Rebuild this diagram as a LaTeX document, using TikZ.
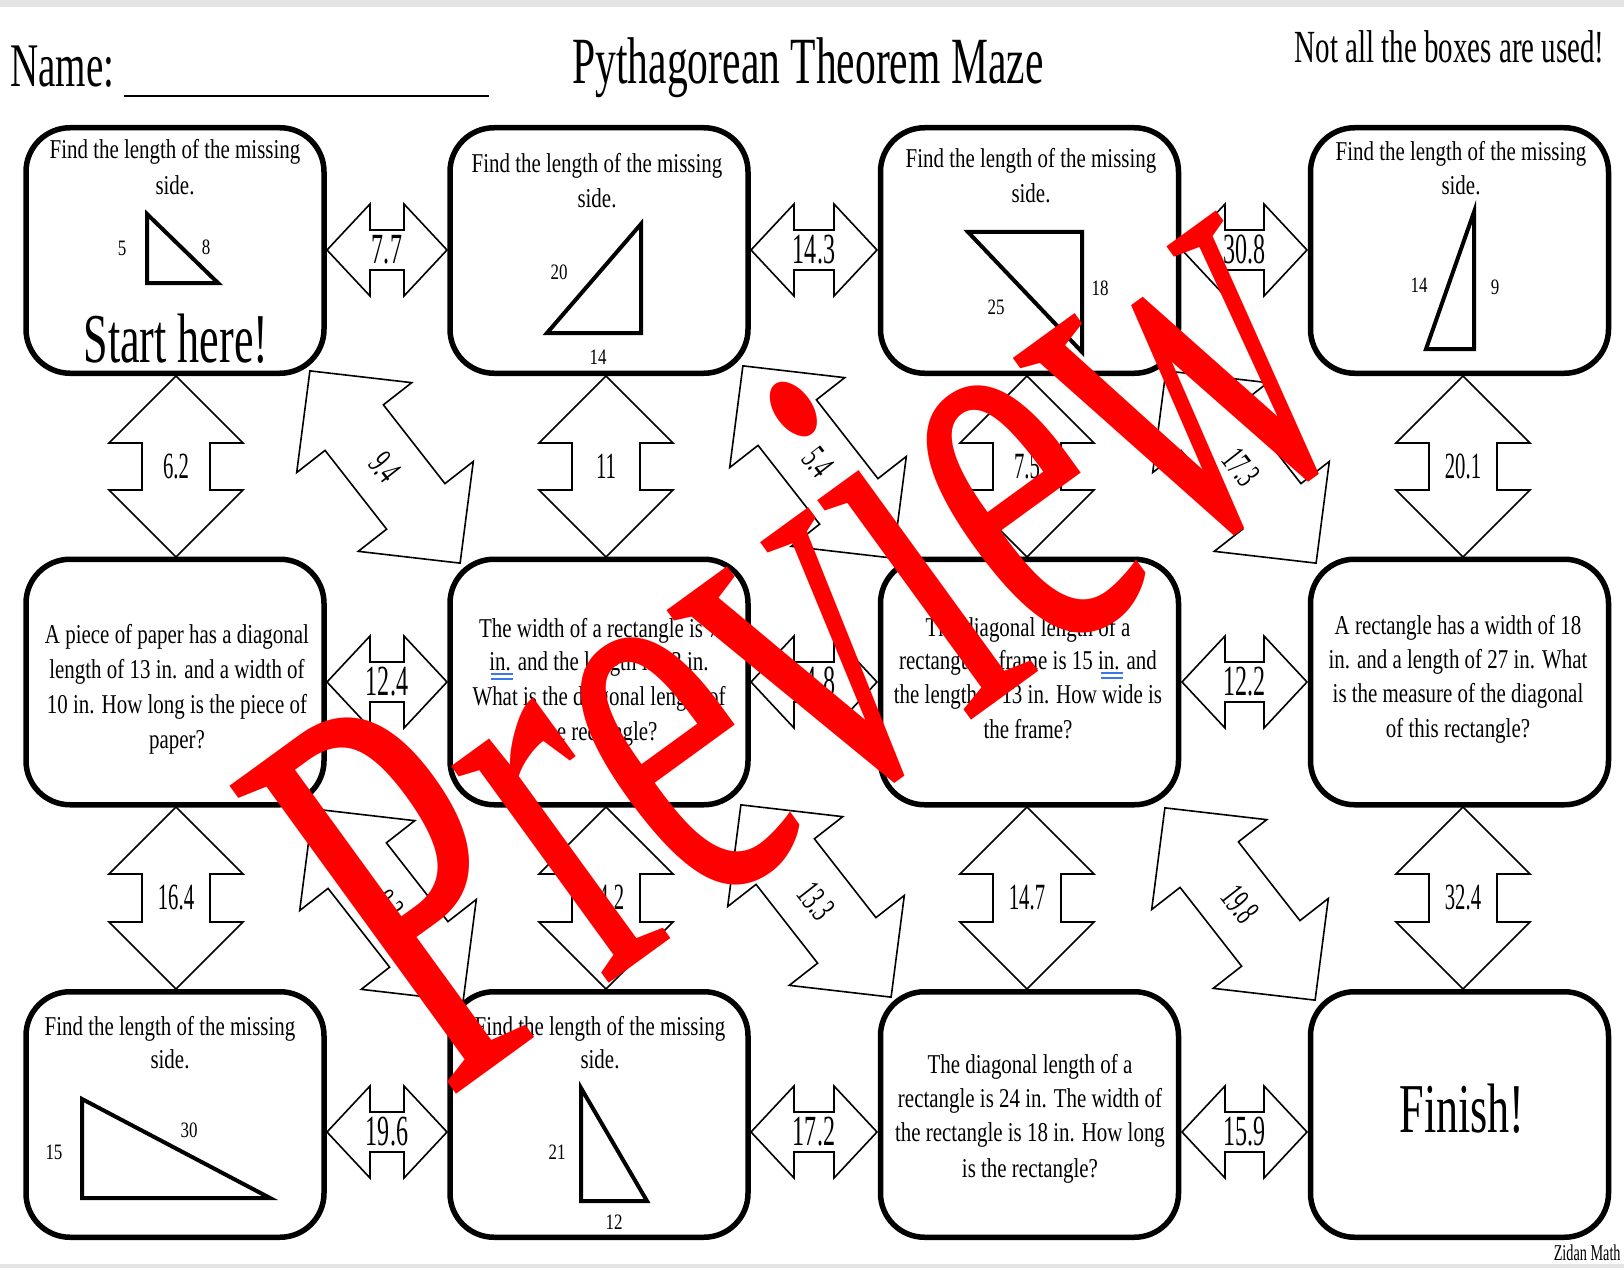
\documentclass[tikz,border=0pt]{standalone}
\usepackage{fontspec}
\setmainfont{Liberation Serif}
\newfontfamily\bxf{Liberation Serif}[FakeStretch=0.77]
\newfontfamily\ttlf{Liberation Serif}[FakeStretch=0.63]
\newfontfamily\numf{Liberation Serif}[FakeStretch=0.56]
\newfontfamily\wmf{Liberation Serif}[FakeStretch=0.60]
\definecolor{band}{HTML}{E4E4E4}
\definecolor{spell}{HTML}{3B78E7}
\tikzset{
  arr/.style={draw=black, fill=white, line width=0.8pt, line join=miter},
  mbox/.style={draw=black, fill=white, line width=2.75pt, rounded corners=22pt,
    minimum width=149pt, minimum height=122.75pt, inner sep=0pt},
  hnum/.style={font=\numf\fontsize{21.5pt}{21.5pt}\selectfont, inner sep=0pt},
  vnum/.style={font=\numf\fontsize{18.5pt}{18.5pt}\selectfont, inner sep=0pt},
  btxt/.style={font=\bxf\fontsize{13.6pt}{17pt}\selectfont, inner sep=0pt, anchor=base},
  tlab/.style={font=\bxf\fontsize{11pt}{11pt}\selectfont, inner sep=0pt},
  tri/.style={draw=black, line width=2pt, line join=miter},
  bigtxt/.style={font=\ttlf\fontsize{35pt}{35pt}\selectfont, inner sep=0pt, anchor=base},
  spellmark/.style={draw=spell, line width=1pt}
}
% horizontal double arrow: name, x1, x2, y, label
\newcommand\mzH[5]{%
  \draw[arr] (#2,#4) -- ({#2+43},{#4-46}) -- ({#2+43},{#4-20}) -- ({#3-43},{#4-20})
    -- ({#3-43},{#4-46}) -- (#3,#4) -- ({#3-43},{#4+46}) -- ({#3-43},{#4+20})
    -- ({#2+43},{#4+20}) -- ({#2+43},{#4+46}) -- cycle;
  \node[hnum] (#1) at ({(#2+#3)/2},#4) {#5};}
% vertical double arrow: name, x, y1, y2, label
\newcommand\mzV[5]{%
  \draw[arr] (#2,#3) -- ({#2+67},{#3+67}) -- ({#2+34},{#3+67}) -- ({#2+34},{#4-67})
    -- ({#2+67},{#4-67}) -- (#2,#4) -- ({#2-67},{#4-67}) -- ({#2-34},{#4-67})
    -- ({#2-34},{#3+67}) -- ({#2-67},{#3+67}) -- cycle;
  \node[vnum] (#1) at (#2,{(#3+#4)/2}) {#5};}
% diagonal double arrow: name, cx, cy, label
\newcommand\mzD[4]{%
  \begin{scope}[shift={(#2,#3)}, rotate=38]
    \draw[arr] (0,-122) -- (73,-50) -- (37,-50) -- (37,50) -- (73,50) -- (0,122)
      -- (-73,50) -- (-37,50) -- (-37,-50) -- (-73,-50) -- cycle;
  \end{scope}
  \node[vnum, rotate=-52] (#1) at (#2,#3) {#4};}

\begin{document}
\begin{tikzpicture}[x=0.5pt, y=-0.5pt]
\useasboundingbox (0,0) rectangle (1624,1268);
\fill[white] (0,0) rectangle (1624,1268);
\fill[band] (0,0) rectangle (1624,7);
\fill[band] (0,1264) rectangle (1624,1268);

% header
\node[anchor=base west, font=\ttlf\fontsize{31pt}{31pt}\selectfont, inner sep=0pt] (name) at (10,87) {Name:};
\coordinate (ulA) at (124,96);
\coordinate (ulB) at (489,96);
\draw[line width=1.3pt] (ulA) -- (ulB);
\node[anchor=base, font=\ttlf\fontsize{33pt}{33pt}\selectfont, inner sep=0pt] (title) at (808,84) {Pythagorean Theorem Maze};
\node[anchor=base east, font=\ttlf\fontsize{23pt}{23pt}\selectfont, inner sep=0pt] (note) at (1605,63) {Not all the boxes are used!};
\node[anchor=base east, font=\ttlf\fontsize{11.3pt}{11.3pt}\selectfont, inner sep=0pt] (credit) at (1621,1260) {Zidan Math};

% horizontal arrows
\mzH{h11}{327}{447}{250}{7.7}
\mzH{h12}{751}{877}{250}{14.3}
\mzH{h13}{1182}{1307}{250}{30.8}
\mzH{h21}{327}{447}{682}{12.4}
\mzH{h22}{751}{877}{682}{14.8}
\mzH{h23}{1182}{1307}{682}{12.2}
\mzH{h31}{327}{447}{1132}{19.6}
\mzH{h32}{751}{877}{1132}{17.2}
\mzH{h33}{1182}{1307}{1132}{15.9}

% vertical arrows
\mzV{v11}{176}{376}{557}{6.2}
\mzV{v12}{606}{376}{557}{11}
\mzV{v13}{1027}{376}{557}{7.5}
\mzV{v14}{1463}{376}{557}{20.1}
\mzV{v21}{176}{807}{989}{16.4}
\mzV{v22}{606}{807}{989}{24.2}
\mzV{v23}{1027}{807}{989}{14.7}
\mzV{v24}{1463}{807}{989}{32.4}

% diagonal arrows
\mzD{d11}{385}{467}{9.4}
\mzD{d12}{818}{462}{5.4}
\mzD{d13}{1241}{467}{17.3}
\mzD{d21}{388}{905}{8.3}
\mzD{d22}{816}{901}{13.3}
\mzD{d23}{1240}{904}{19.8}

% boxes
\node[mbox] (b11) at (175,250.5) {};
\node[mbox] (b12) at (599,250.5) {};
\node[mbox] (b13) at (1029.5,250.5) {};
\node[mbox] (b14) at (1459.5,250.5) {};
\node[mbox] (b21) at (175,682) {};
\node[mbox] (b22) at (599,682) {};
\node[mbox] (b23) at (1029.5,682) {};
\node[mbox] (b24) at (1459.5,682) {};
\node[mbox] (b31) at (175,1114.5) {};
\node[mbox] (b32) at (599,1114.5) {};
\node[mbox] (b33) at (1029.5,1114.5) {};
\node[mbox] (b34) at (1459.5,1114.5) {};

% row 1 texts
\node[btxt] (t11a) at (175,159) {Find the length of the missing};
\node[btxt] (t11b) at (175,195) {side.};
\node[bigtxt] (start) at (176,362) {Start here!};
\node[btxt] (t12a) at (597,173) {Find the length of the missing};
\node[btxt] (t12b) at (597,207) {side.};
\node[btxt] (t13a) at (1031,168) {Find the length of the missing};
\node[btxt] (t13b) at (1031,203) {side.};
\node[btxt] (t14a) at (1461,161) {Find the length of the missing};
\node[btxt] (t14b) at (1461,195) {side.};

% row 1 triangles
\draw[tri] (147,214) -- (147,283) -- (218,283) -- cycle;
\node[tlab] (l11a) at (122,248) {5};
\node[tlab] (l11b) at (206,247) {8};
\draw[tri] (641,224) -- (641,333) -- (547,333) -- cycle;
\node[tlab] (l12a) at (559,272) {20};
\node[tlab] (l12b) at (598,357) {14};
\draw[tri] (968,232) -- (1082,232) -- (1082,352) -- cycle;
\node[tlab] (l13a) at (996,307) {25};
\node[tlab] (l13b) at (1100,288) {18};
\draw[tri] (1474,212) -- (1474,349) -- (1426,349) -- cycle;
\node[tlab] (l14a) at (1419,285) {14};
\node[tlab] (l14b) at (1495,287) {9};

% row 2 texts
\node[btxt] (t21a) at (177,643) {A piece of paper has a diagonal};
\node[btxt] (t21b) at (177,678) {length of 13 in. and a width of};
\node[btxt] (t21c) at (177,713) {10 in. How long is the piece of};
\node[btxt] (t21d) at (177,748) {paper?};
\node[btxt] (t22a) at (599,637) {The width of a rectangle is 7};
\node[btxt] (t22b) at (599,670) {in. and the length is 13 in.};
\node[btxt] (t22c) at (599,705) {What is the diagonal length of};
\node[btxt] (t22d) at (599,740) {the rectangle?};
\node[btxt] (t23a) at (1028,636) {The diagonal length of a};
\node[btxt] (t23b) at (1028,669) {rectangular frame is 15 in. and};
\node[btxt] (t23c) at (1028,703) {the length is 13 in. How wide is};
\node[btxt] (t23d) at (1028,738) {the frame?};
\node[btxt] (t24a) at (1458,634) {A rectangle has a width of 18};
\node[btxt] (t24b) at (1458,668) {in. and a length of 27 in. What};
\node[btxt] (t24c) at (1458,702) {is the measure of the diagonal};
\node[btxt] (t24d) at (1458,737) {of this rectangle?};
\draw[spellmark] (491,674) -- (513,674) (491,679) -- (513,679);
\draw[spellmark] (1101,673) -- (1123,673) (1101,678) -- (1123,678);

% row 3 texts
\node[btxt] (t31a) at (170,1035) {Find the length of the missing};
\node[btxt] (t31b) at (170,1068) {side.};
\draw[tri] (82,1099) -- (82,1198) -- (270,1198) -- cycle;
\node[tlab] (l31a) at (54,1152) {15};
\node[tlab] (l31b) at (189,1130) {30};
\node[btxt] (t32a) at (600,1035) {Find the length of the missing};
\node[btxt] (t32b) at (600,1068) {side.};
\draw[tri] (581,1088) -- (581,1201) -- (647,1201) -- cycle;
\node[tlab] (l32a) at (557,1152) {21};
\node[tlab] (l32b) at (614,1222) {12};
\node[btxt] (t33a) at (1030,1073) {The diagonal length of a};
\node[btxt] (t33b) at (1030,1107) {rectangle is 24 in. The width of};
\node[btxt] (t33c) at (1030,1141) {the rectangle is 18 in. How long};
\node[btxt] (t33d) at (1030,1177) {is the rectangle?};
\node[bigtxt] (finish) at (1462,1132) {Finish!};

% watermark
\node[anchor=base west, rotate=36, inner sep=0pt, text=red,
      font=\wmf\fontsize{292pt}{292pt}\selectfont] (wm) at (446,1102) {Preview};
\end{tikzpicture}
\end{document}
